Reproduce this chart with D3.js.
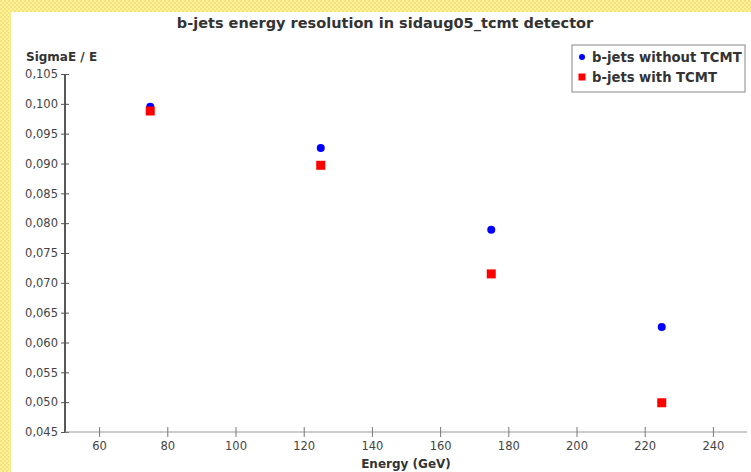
<!DOCTYPE html>
<html>
<head>
<meta charset="utf-8">
<script src="https://cdn.jsdelivr.net/npm/d3@7"></script>
<style>
    body { margin: 0; background: #fff; }
    svg { display: block; font-family: "DejaVu Sans", sans-serif; }
</style>
</head>
<body>
<svg></svg>
<script>
(() => {
    // data
    const energies = [75, 125, 175, 225];
    const withoutTcmt = [0.0995, 0.0926, 0.0789, 0.0626];
    const withTcmt = [0.0988, 0.0897, 0.0715, 0.0499];
    const seriesNames = ["b-jets without TCMT", "b-jets with TCMT"];
    const xTicks = [60, 80, 100, 120, 140, 160, 180, 200, 220, 240];
    const yTicks = [0.045, 0.050, 0.055, 0.060, 0.065, 0.070, 0.075, 0.080, 0.085, 0.090, 0.095, 0.100, 0.105];

    const W = 751, H = 472;
    const margin = { top: 74, right: 4, bottom: 40, left: 65 };

    const EU = d3.formatLocale({ "decimal": ",", "thousands": ".", "grouping": [3], "currency": ["", ""] });

    const svg = d3.select("svg")
        .attr("width", W)
        .attr("height", H);

    // yellow dotted frame
    const defs = svg.append("defs");
    const pat = defs.append("pattern")
        .attr("id", "dots")
        .attr("width", 4).attr("height", 4)
        .attr("patternUnits", "userSpaceOnUse");
    pat.append("rect").attr("width", 4).attr("height", 4).attr("fill", "#fff39a");
    pat.append("rect").attr("width", 2).attr("height", 2).attr("fill", "#f6e27c");
    pat.append("rect").attr("x", 2).attr("y", 2).attr("width", 2).attr("height", 2).attr("fill", "#f6e27c");
    svg.append("rect").attr("width", W).attr("height", H).attr("fill", "url(#dots)");
    svg.append("rect").attr("x", 11).attr("y", 12).attr("width", W - 11).attr("height", H - 12).attr("fill", "#fff");

    const x = d3.scaleLinear().domain([50, 250]).range([margin.left, 747]);
    const y = d3.scaleLinear().domain([0.045, 0.105]).range([H - margin.bottom, margin.top]);

    // title
    svg.append("text")
        .attr("x", 385).attr("y", 28)
        .attr("text-anchor", "middle")
        .attr("font-size", 14.5).attr("font-weight", "bold")
        .attr("fill", "#333")
        .text("b-jets energy resolution in sidaug05_tcmt detector");

    // Y axis
    const yAxis = d3.axisLeft(y)
        .tickValues(yTicks)
        .tickSize(4)
        .tickPadding(3)
        .tickFormat(EU.format(".3f"));
    const gy = svg.append("g")
        .attr("transform", `translate(${margin.left},0)`)
        .call(yAxis);
    gy.select(".domain").attr("stroke", "#222").attr("stroke-width", 1.5)
        .attr("d", `M0,${y(0.105)}V${y(0.045)}`);
    gy.selectAll(".tick line").attr("x1", 4).attr("x2", -4).attr("stroke", "#555");
    gy.selectAll(".tick text").attr("font-size", 11.5).attr("fill", "#444").attr("font-family", "DejaVu Sans");

    // X axis
    const xAxis = d3.axisBottom(x)
        .tickValues(xTicks)
        .tickSize(4)
        .tickPadding(6)
        .tickFormat(d3.format("d"));
    const gx = svg.append("g")
        .attr("transform", `translate(0,${H - margin.bottom})`)
        .call(xAxis);
    gx.select(".domain").attr("stroke", "#999").attr("d", `M${x(50)},0H${x(250)}`);
    gx.selectAll(".tick line").attr("y1", -5).attr("y2", 5).attr("stroke", "#777");
    gx.selectAll(".tick text").attr("font-size", 11.5).attr("fill", "#444").attr("font-family", "DejaVu Sans");

    // axis titles
    svg.append("text")
        .attr("x", 26).attr("y", 61)
        .attr("font-size", 12).attr("font-weight", "bold").attr("fill", "#333")
        .text("SigmaE / E");
    svg.append("text")
        .attr("x", 406).attr("y", 468)
        .attr("text-anchor", "middle")
        .attr("font-size", 12).attr("font-weight", "bold").attr("fill", "#333")
        .text("Energy (GeV)");

    // points
    svg.append("g").selectAll("circle")
        .data(energies)
        .join("circle")
        .attr("cx", d => x(d))
        .attr("cy", (d, i) => y(withoutTcmt[i]))
        .attr("r", 4)
        .attr("fill", "#0000ff");
    svg.append("g").selectAll("rect")
        .data(energies)
        .join("rect")
        .attr("x", d => x(d) - 4.5)
        .attr("y", (d, i) => y(withTcmt[i]) - 4.5)
        .attr("width", 9).attr("height", 9)
        .attr("fill", "#ff0000");

    // legend
    const lg = svg.append("g").attr("transform", "translate(572,45)");
    lg.append("rect")
        .attr("width", 173).attr("height", 47)
        .attr("fill", "#fff").attr("stroke", "#888");
    lg.append("circle").attr("cx", 10).attr("cy", 12).attr("r", 3).attr("fill", "#0000ff");
    lg.append("rect").attr("x", 6.5).attr("y", 28.5).attr("width", 7).attr("height", 7).attr("fill", "#ff0000");
    lg.selectAll("text.lbl")
        .data(seriesNames)
        .join("text")
        .attr("class", "lbl")
        .attr("x", 20).attr("y", (d, i) => 17 + i * 20)
        .attr("font-size", 13.2).attr("font-weight", "bold").attr("fill", "#333")
        .text(d => d);
})();
</script>
</body>
</html>
